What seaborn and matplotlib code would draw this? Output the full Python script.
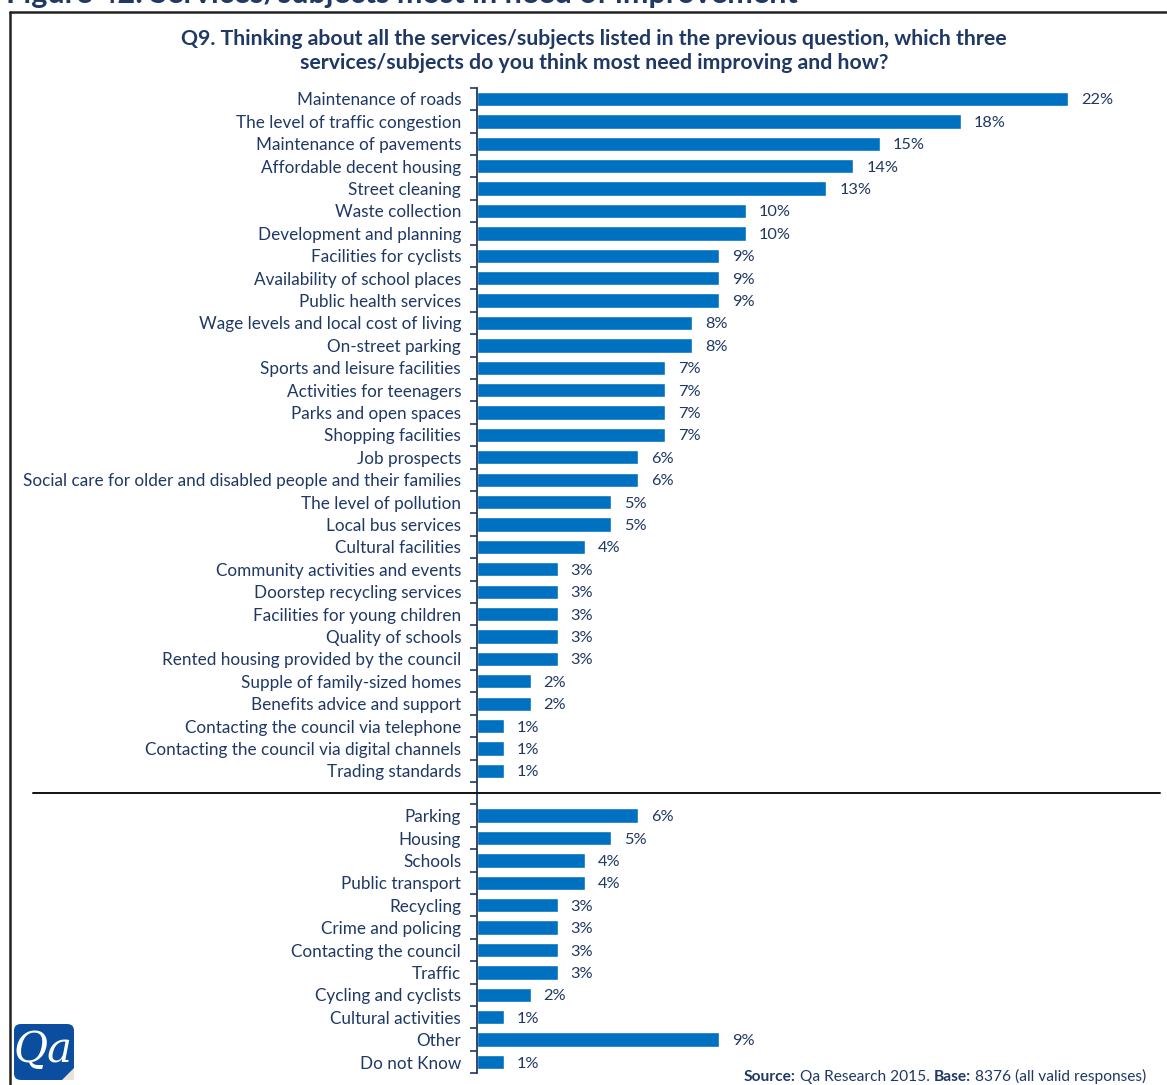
import numpy as np
import pandas as pd
import matplotlib
matplotlib.use("Agg")
import matplotlib.pyplot as plt
import matplotlib.transforms as mtransforms
from matplotlib.patches import FancyBboxPatch, Polygon
from matplotlib.lines import Line2D
import seaborn as sns

# Services listed in the questionnaire
listed_items = [
    "Maintenance of roads", "The level of traffic congestion", "Maintenance of pavements",
    "Affordable decent housing", "Street cleaning", "Waste collection",
    "Development and planning", "Facilities for cyclists", "Availability of school places",
    "Public health services", "Wage levels and local cost of living", "On-street parking",
    "Sports and leisure facilities", "Activities for teenagers", "Parks and open spaces",
    "Shopping facilities", "Job prospects",
    "Social care for older and disabled people and their families",
    "The level of pollution", "Local bus services", "Cultural facilities",
    "Community activities and events", "Doorstep recycling services",
    "Facilities for young children", "Quality of schools",
    "Rented housing provided by the council", "Supple of family-sized homes",
    "Benefits advice and support", "Contacting the council via telephone",
    "Contacting the council via digital channels", "Trading standards",
]
listed_pct = [22, 18, 15, 14, 13, 10, 10, 9, 9, 9, 8, 8, 7, 7, 7, 7, 6, 6, 5, 5, 4,
              3, 3, 3, 3, 3, 2, 2, 1, 1, 1]

# Coded free-text answers
coded_items = [
    "Parking", "Housing", "Schools", "Public transport", "Recycling",
    "Crime and policing", "Contacting the council", "Traffic",
    "Cycling and cyclists", "Cultural activities", "Other", "Do not Know",
]
coded_pct = [6, 5, 4, 4, 3, 3, 3, 3, 2, 1, 9, 1]

question = ("Q9. Thinking about all the services/subjects listed in the previous question, which three\n"
            "services/subjects do you think most need improving and how?")
figure_title = "Figure 42: Services/subjects most in need of improvement"
source_parts = [("Source:", "bold"), (" Qa Research 2015. ", "normal"),
                ("Base:", "bold"), (" 8376 (all valid responses)", "normal")]

BAR = "#0070C0"
NAVY = "#1F3864"
GAP = ""

sns.set_theme(style="white")
plt.rcParams["font.family"] = ["Lato", "DejaVu Sans"]

df = pd.DataFrame({"item": listed_items + coded_items, "pct": listed_pct + coded_pct})
order = listed_items + [GAP] + coded_items
n = len(order)

W, H = 1167, 1085
fig = plt.figure(figsize=(W / 100, H / 100), dpi=100)
fig.patch.set_facecolor("white")

top_px, bot_px, left_px, right_px = 87.8, 1073.2, 477, 1149
ax = fig.add_axes([left_px / W, 1 - bot_px / H, (right_px - left_px) / W, (bot_px - top_px) / H])

sns.barplot(data=df, x="pct", y="item", order=order, color=BAR, saturation=1,
            width=0.64, ax=ax)
ax.set_xlim(0, 25)
ax.set_ylim(n - 0.5, -0.5)
ax.set_xlabel("")
ax.set_ylabel("")
ax.set_xticks([])

for s in ["top", "right", "bottom"]:
    ax.spines[s].set_visible(False)
ax.spines["left"].set_color(NAVY)
ax.spines["left"].set_linewidth(1.3)

ax.set_yticks(range(n))
ax.set_yticklabels(order)
ax.set_yticks(np.arange(-0.5, n, 1), minor=True)
ax.tick_params(axis="y", which="major", length=0, pad=11.5, labelsize=12.3, labelcolor=NAVY)
ax.tick_params(axis="y", which="minor", left=True, length=5, width=1.2, color=NAVY,
               direction="out")

# Value labels beside each bar
for i, name in enumerate(order):
    if name == GAP:
        continue
    v = df.loc[df["item"] == name, "pct"].iloc[0]
    ax.text(v + 0.48, i, f"{v}%", va="center_baseline", ha="left", fontsize=11.8, color=NAVY)

# Separator between listed and coded answers
gap_idx = order.index(GAP)
blend = mtransforms.blended_transform_factory(fig.transFigure, ax.transData)
fig.add_artist(Line2D([33 / W, 1160 / W], [gap_idx, gap_idx], transform=blend,
                      color="#111111", lw=1.4))

# Question heading
fig.text(594 / W, 1 - 51 / H, question, ha="center", va="center", fontsize=15.3,
         fontweight="bold", color=NAVY, linespacing=1.2)

# Frame around the chart and the report caption above it
fig.add_artist(Line2D([10 / W, 1166 / W], [1 - 12 / H, 1 - 12 / H], transform=fig.transFigure,
                      color="#222222", lw=1.8))
fig.add_artist(Line2D([10 / W, 10 / W], [1 - 12 / H, 0], transform=fig.transFigure,
                      color="#222222", lw=1.8))
fig.text(6 / W, 1 - 3 / H, figure_title, ha="left", va="baseline", fontsize=22,
         fontweight="bold", color=NAVY)

# Logo
fig.add_artist(FancyBboxPatch((14 / W, 1 - 1080 / H), 60 / W, 56 / H,
                              boxstyle="round,pad=0,rounding_size=0.006",
                              transform=fig.transFigure, facecolor="#0B4E9F",
                              edgecolor="none"))
fig.add_artist(Polygon([[62 / W, 1 - 1080 / H], [74 / W, 1 - 1080 / H], [74 / W, 1 - 1068 / H]],
                       closed=True, transform=fig.transFigure, facecolor="#E8E2DA",
                       edgecolor="none"))
fig.text(43 / W, 1 - 1050 / H, "Qa", ha="center", va="center", fontsize=30,
         style="italic", family="DejaVu Serif", color="white")

# Source line
renderer = fig.canvas.get_renderer()
x = 744
for txt, weight in source_parts:
    t = fig.text(x / W, 1 - 1081 / H, txt, ha="left", va="baseline", fontsize=11.2,
                 fontweight=weight, color=NAVY)
    x += t.get_window_extent(renderer).width

fig.savefig("out.png", dpi=100)
